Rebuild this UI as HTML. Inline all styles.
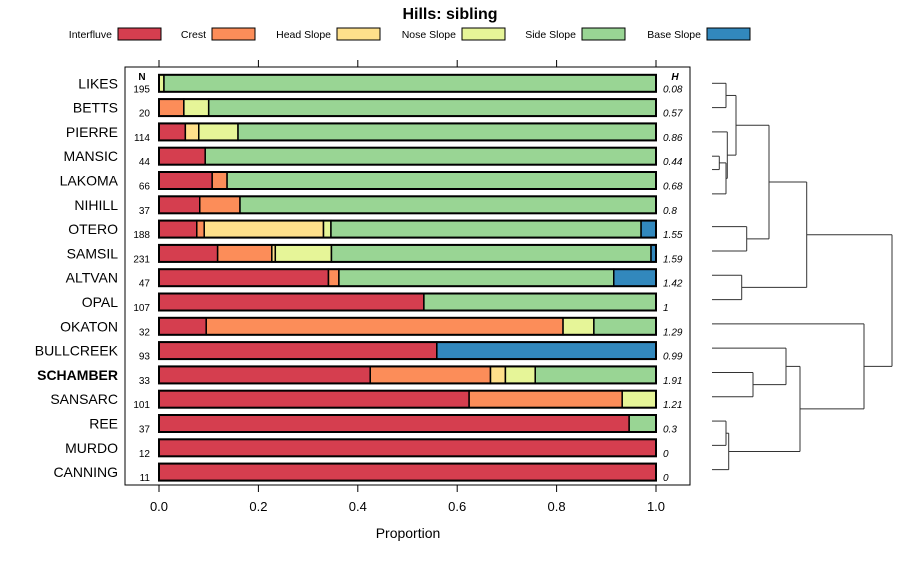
<!DOCTYPE html>
<html><head><meta charset="utf-8"><style>
body{margin:0;background:#fff;width:900px;height:560px;overflow:hidden;font-family:"Liberation Sans",sans-serif}
</style></head><body>
<svg id="chart" width="900" height="560" xmlns="http://www.w3.org/2000/svg" font-family="Liberation Sans, sans-serif"></svg>
<script>
const classes=["Interfluve","Crest","Head Slope","Nose Slope","Side Slope","Base Slope"];
const colors=["#D53E4F","#FC8D59","#FEE08B","#E6F598","#99D594","#3288BD"];
const series=["LIKES","BETTS","PIERRE","MANSIC","LAKOMA","NIHILL","OTERO","SAMSIL","ALTVAN","OPAL","OKATON","BULLCREEK","SCHAMBER","SANSARC","REE","MURDO","CANNING"];
const nValues=[195,20,114,44,66,37,188,231,47,107,32,93,33,101,37,12,11];
const hValues=["0.08","0.57","0.86","0.44","0.68","0.8","1.55","1.59","1.42","1","1.29","0.99","1.91","1.21","0.3","0","0"];
const proportions=[
[0,0,0,0.01,0.99,0],
[0,0.05,0,0.05,0.90,0],
[0.053,0,0.027,0.079,0.841,0],
[0.093,0,0,0,0.907,0],
[0.107,0.03,0,0,0.863,0],
[0.082,0.081,0,0,0.837,0],
[0.076,0.015,0.24,0.015,0.624,0.03],
[0.118,0.109,0.007,0.113,0.643,0.01],
[0.341,0.021,0,0,0.553,0.085],
[0.533,0,0,0,0.467,0],
[0.095,0.718,0,0.062,0.125,0],
[0.559,0,0,0,0,0.441],
[0.425,0.242,0.03,0.06,0.243,0],
[0.624,0.308,0,0.068,0,0],
[0.946,0,0,0,0.054,0],
[1,0,0,0,0,0],
[1,0,0,0,0,0]];
const xTicks=[0,0.2,0.4,0.6,0.8,1.0];
const xTickLabels=["0.0","0.2","0.4","0.6","0.8","1.0"];
const leafPos=[0,1,2,3,3.55,4.55,5.9,6.9,7.9,8.9,9.9,10.9,11.9,12.9,13.9,14.9,15.9];
const merges=[["L0","L1",14],["L3","L4",7.3],["M1","L5",14],["L2","M2",15.3],["M0","M3",24],["L6","L7",34.7],["M4","M5",57],["L8","L9",29.7],["M6","M7",94.7],["L12","L13",41],["L11","M9",74],["L14","L15",14],["M11","L16",16.7],["M10","M12",88],["L10","M13",152],["M8","M14",180]];

const NS="http://www.w3.org/2000/svg";
const svg=document.getElementById("chart");
function el(t,a,txt){const e=document.createElementNS(NS,t);for(const k in a)e.setAttribute(k,a[k]);if(txt!==undefined)e.textContent=txt;svg.appendChild(e);return e;}
const X0=159,X1=656;
const xs=v=>X0+(X1-X0)*v;
const rowY=i=>83.3+i*24.3;

let t=el("text",{x:450,y:19,"text-anchor":"middle","font-size":16,"font-weight":"bold",fill:"#000"},"Hills: sibling");



const legX=[118,212,337,462,582,707];
classes.forEach((c,i)=>{
  let lt=el("text",{x:legX[i]-6,y:38,"text-anchor":"end","font-size":10.5,fill:"#000"},c);
  
  
  let lr=el("rect",{x:legX[i],y:28,width:43,height:12,fill:colors[i],stroke:"#000","stroke-width":1});
  
  
});

let panel=el("rect",{x:125,y:67,width:565,height:418,fill:"none",stroke:"#000","stroke-width":1});



xTicks.forEach((v,i)=>{
  el("line",{x1:xs(v),x2:xs(v),y1:60,y2:67,stroke:"#000"});
  el("line",{x1:xs(v),x2:xs(v),y1:485,y2:492,stroke:"#000"});
  let tl=el("text",{x:xs(v),y:511,"text-anchor":"middle","font-size":13,fill:"#000"},xTickLabels[i]);
  
  
});
let xt=el("text",{x:408,y:538,"text-anchor":"middle","font-size":14,fill:"#000"},"Proportion");



let nh=el("text",{x:142,y:80,"text-anchor":"middle","font-size":10,"font-weight":"bold"},"N");


let hh=el("text",{x:675,y:80,"text-anchor":"middle","font-size":10,"font-weight":"bold","font-style":"italic"},"H");



series.forEach((s,i)=>{
  const y=rowY(i);
  let lab=el("text",{x:118,y:y+5,"text-anchor":"end","font-size":14,fill:"#000","font-weight":s==="SCHAMBER"?"bold":"normal"},s);
  
  
  let nt=el("text",{x:150,y:y+9,"text-anchor":"end","font-size":10,fill:"#000"},nValues[i]);
  
  
  let ht=el("text",{x:663,y:y+9,"font-size":10,"font-style":"italic",fill:"#000"},hValues[i]);
  
  
  let acc=0;
  proportions[i].forEach((p,k)=>{
    if(p<=0)return;
    let r=el("rect",{x:xs(acc),y:y-8.5,width:xs(acc+p)-xs(acc),height:17,fill:colors[k],stroke:"#000","stroke-width":1.5});
    
    
    acc+=p;
  });
  let o=el("rect",{x:xs(0),y:y-8.5,width:xs(acc)-xs(0),height:17,fill:"none",stroke:"#000","stroke-width":2});
  
  
});

const D0=712,dScale=1.0;
const nodes={};
leafPos.forEach((p,i)=>{nodes["L"+i]={x:D0,y:rowY(p)};});
merges.forEach((m,i)=>{
  const a=nodes[m[0]],b=nodes[m[1]],hx=D0+m[2]*dScale;
  const col="#333";
  el("line",{x1:a.x,x2:hx,y1:a.y,y2:a.y,stroke:col});
  el("line",{x1:b.x,x2:hx,y1:b.y,y2:b.y,stroke:col});
  let v=el("line",{x1:hx,x2:hx,y1:a.y,y2:b.y,stroke:col});
  
  
  nodes["M"+i]={x:hx,y:(a.y+b.y)/2};
});
</script>
</body></html>
